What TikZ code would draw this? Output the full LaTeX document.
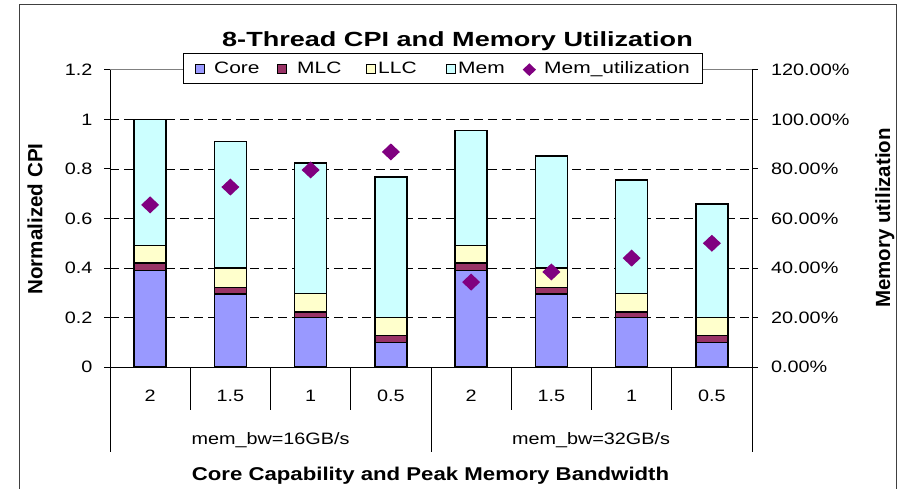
\documentclass[tikz,border=0pt]{standalone}
\usepackage{fontspec}
\setmainfont{Liberation Sans}
\newfontfamily\hf{Liberation Sans}[FakeStretch=1.2]
\newfontfamily\hfl{Liberation Sans}[FakeStretch=1.27]
\newfontfamily\hft{Liberation Sans}[FakeStretch=1.32]
\definecolor{corec}{HTML}{9999FF}
\definecolor{mlcc}{HTML}{993366}
\definecolor{llcc}{HTML}{FFFFCC}
\definecolor{memc}{HTML}{CCFFFF}
\definecolor{utilc}{HTML}{800080}
\definecolor{framec}{HTML}{404040}
\tikzset{
  grid line/.style={line width=0.9pt, black, dash pattern=on 9pt off 5pt},
  bar line/.style={line width=1.4pt, black},
  axis line/.style={line width=1pt, black},
  tick lbl/.style={font=\hf\fontsize{16.5}{18}\selectfont, inner sep=0pt},
  leg lbl/.style={font=\hfl\fontsize{16.5}{18}\selectfont, inner sep=0pt, anchor=base west},
  leg sq/.style={draw=black, line width=0.8pt, minimum size=9pt, inner sep=0pt},
  util mark/.style={fill=utilc, draw=none}
}
\begin{document}
\begin{tikzpicture}[x=1pt,y=-1pt]
\useasboundingbox (0,0) rectangle (899,489);
% outer frame (open at bottom)
\draw[framec, line width=1pt] (19,489) -- (19,5) -- (896,5) -- (896,489);
% gridlines
\foreach \v in {0.2,0.4,0.6,0.8,1.0}{
  \draw[grid line] (110,{367-247.5*\v}) -- (752,{367-247.5*\v});
}
% top border of plot area
\draw[gray, line width=1pt] (110,70) -- (752,70);
% bars
\foreach \i/\c/\m/\l/\t/\u in {0/0.39/0.42/0.49/1.0/0.655, 1/0.295/0.32/0.40/0.91/0.727, 2/0.2/0.223/0.297/0.825/0.796, 3/0.098/0.127/0.199/0.768/0.869, 4/0.39/0.42/0.49/0.955/0.343, 5/0.295/0.32/0.40/0.852/0.384, 6/0.2/0.223/0.297/0.755/0.44, 7/0.098/0.127/0.199/0.659/0.50}{
  \pgfmathsetmacro\xc{110+(\i+0.5)*80.25}
  \pgfmathsetmacro\yc{367-247.5*\c}
  \pgfmathsetmacro\ym{367-247.5*\m}
  \pgfmathsetmacro\yl{367-247.5*\l}
  \pgfmathsetmacro\yt{367-247.5*\t}
  \pgfmathsetmacro\yu{367-247.5*\u}
  \draw[bar line, fill=corec] ({\xc-16},367) rectangle ({\xc+16},\yc);
  \draw[bar line, fill=mlcc] ({\xc-16},\yc) rectangle ({\xc+16},\ym);
  \draw[bar line, fill=llcc] ({\xc-16},\ym) rectangle ({\xc+16},\yl);
  \draw[bar line, fill=memc] ({\xc-16},\yl) rectangle ({\xc+16},\yt);
  \fill[utilc] (\xc,{\yu-8.5}) -- ({\xc+9},\yu) -- (\xc,{\yu+8.5}) -- ({\xc-9},\yu) -- cycle;
}
% axes
\draw[axis line] (110,70) -- (110,452);
\draw[axis line] (752,70) -- (752,452);
\draw[axis line] (104,367) -- (758,367);
\foreach \v in {0.2,0.4,0.6,0.8,1.0,1.2}{
  \draw[axis line] (104,{367-247.5*\v}) -- (110,{367-247.5*\v});
  \draw[axis line] (752,{367-247.5*\v}) -- (758,{367-247.5*\v});
}
\foreach \k in {1,2,3,5,6,7}{
  \draw[axis line] ({110+\k*80.25},367) -- ({110+\k*80.25},410);
}
\draw[axis line] (431,367) -- (431,452);
% left tick labels
\foreach \v/\s [count=\n] in {0/0,0.2/0.2,0.4/0.4,0.6/0.6,0.8/0.8,1.0/1,1.2/1.2}{
  \node[tick lbl, anchor=east] (yl\n) at (92.5,{367-247.5*\v}) {\s};
}
% right tick labels
\foreach \v/\s [count=\n] in {0/0.00\%,0.2/20.00\%,0.4/40.00\%,0.6/60.00\%,0.8/80.00\%,1.0/100.00\%,1.2/120.00\%}{
  \node[tick lbl, anchor=west] (yr\n) at (771,{367-247.5*\v}) {\s};
}
% category labels
\foreach \k/\s in {0/2,1/1.5,2/1,3/0.5,4/2,5/1.5,6/1,7/0.5}{
  \node[tick lbl, anchor=base] (cat\k) at ({110+(\k+0.5)*80.25},401.7) {\s};
}
\node[tick lbl, anchor=base] (grp1) at (270.5,444) {mem\_bw=16GB/s};
\node[tick lbl, anchor=base] (grp2) at (591,444) {mem\_bw=32GB/s};
% axis titles
\node[font=\hf\bfseries\fontsize{18.5}{21}\selectfont, inner sep=0pt, anchor=base] (xtitle) at (430.5,480) {Core Capability and Peak Memory Bandwidth};
\node[font=\bfseries\fontsize{20.6}{24}\selectfont, inner sep=0pt, rotate=90] (ytitle) at (35,219) {Normalized CPI};
\node[font=\bfseries\fontsize{20.5}{24}\selectfont, inner sep=0pt, rotate=90, anchor=base] (y2title) at (890,218) {Memory utilization};
% title
\node[font=\hft\bfseries\fontsize{20.5}{24}\selectfont, inner sep=0pt, anchor=base] (title) at (457.5,46.7) {8-Thread CPI and Memory Utilization};
% legend
\draw[fill=white, draw=black, line width=0.8pt] (183,53) rectangle (702,83);
\node[leg sq, fill=corec] (lk1) at (199.5,68.8) {};
\node[leg lbl] (lt1) at (214,74) {Core};
\node[leg sq, fill=mlcc] (lk2) at (282,68.8) {};
\node[leg lbl] (lt2) at (297,74) {MLC};
\node[leg sq, fill=llcc] (lk3) at (371.3,68.8) {};
\node[leg lbl] (lt3) at (378,74) {LLC};
\node[leg sq, fill=memc] (lk4) at (451.3,68.8) {};
\node[leg lbl] (lt4) at (458,74) {Mem};
\fill[utilc] (529.3,63.3) -- (536,69.7) -- (529.3,76) -- (522.7,69.7) -- cycle;
\node[leg lbl] (lt5) at (544,74) {Mem\_utilization};
\end{tikzpicture}
\end{document}
